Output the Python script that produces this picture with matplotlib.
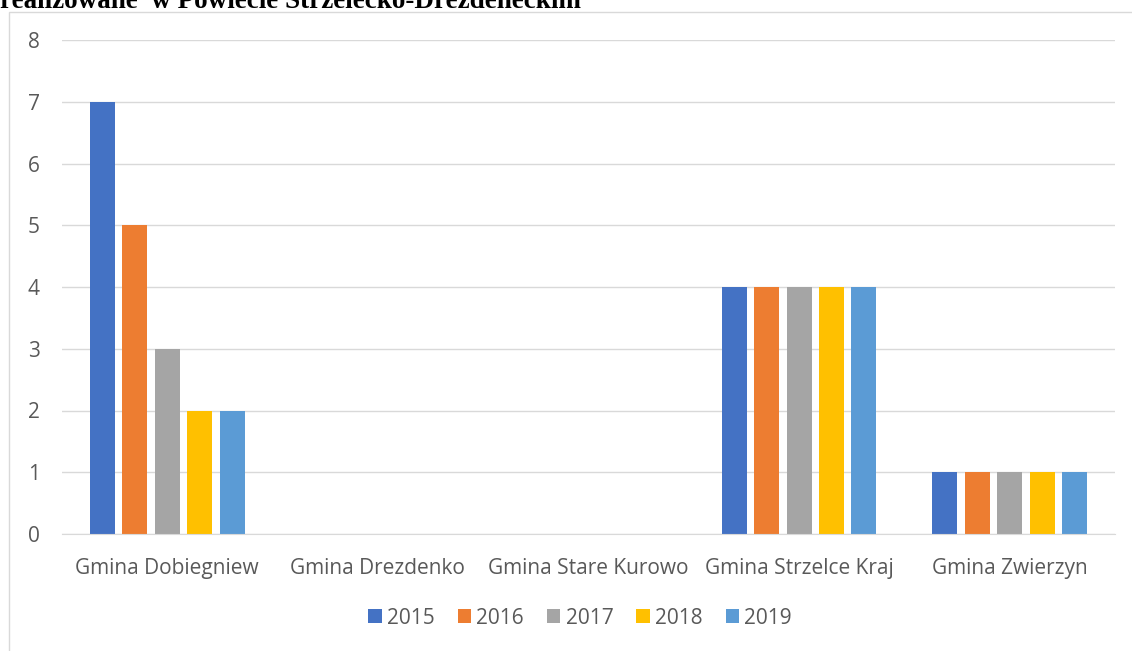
import numpy as np
import matplotlib
matplotlib.use('Agg')
import matplotlib.pyplot as plt
from matplotlib.patches import Rectangle

# Data
gminy = ['Gmina Dobiegniew', 'Gmina Drezdenko', 'Gmina Stare Kurowo',
         'Gmina Strzelce Kraj', 'Gmina Zwierzyn']
years = ['2015', '2016', '2017', '2018', '2019']
v2015 = [7, 0, 0, 4, 1]
v2016 = [5, 0, 0, 4, 1]
v2017 = [3, 0, 0, 4, 1]
v2018 = [2, 0, 0, 4, 1]
v2019 = [2, 0, 0, 4, 1]
colors = ['#4472C4', '#ED7D31', '#A5A5A5', '#FFC000', '#5B9BD5']

series = [v2015, v2016, v2017, v2018, v2019]

plt.rcParams['font.family'] = ['Open Sans', 'DejaVu Sans']
txt = '#595959'

fig = plt.figure(figsize=(11.32, 6.51), dpi=100)
ax = fig.add_axes([62 / 1132, 1 - 534 / 651, (1115 - 62) / 1132, (534 - 40) / 651])

x = np.arange(len(gminy))
step = 0.154
width = 0.119
for i, (vals, yr, c) in enumerate(zip(series, years, colors)):
    ax.bar(x + (i - 2) * step, vals, width, color=c, label=yr, zorder=3)

ax.set_xlim(-0.5, len(gminy) - 0.5)
ax.set_ylim(0, 8)
ax.set_yticks(range(0, 9))
ax.yaxis.grid(True, color='#d9d9d9', linewidth=1, zorder=0)
ax.set_xticks(x)
ax.set_xticklabels(gminy)
ax.tick_params(axis='both', length=0, labelsize=15, colors=txt)
ax.tick_params(axis='x', pad=17)
ax.tick_params(axis='y', pad=16)
for s in ['top', 'right', 'left']:
    ax.spines[s].set_visible(False)
ax.spines['bottom'].set_color('#d9d9d9')
ax.spines['bottom'].set_zorder(4)

leg = ax.legend(loc='center', bbox_to_anchor=(580 / 1132, 1 - 618 / 651),
                bbox_transform=fig.transFigure, ncol=5, frameon=False,
                fontsize=15, handlelength=0.65, handleheight=0.65,
                handletextpad=0.25, columnspacing=1.1)
for t in leg.get_texts():
    t.set_color(txt)

# chart frame (extends past the right and bottom edges like the cropped source)
fig.patches.append(Rectangle((9 / 1132, -0.05), 1.1, 1 - 12 / 651 + 0.05,
                             transform=fig.transFigure, fill=False,
                             edgecolor='#d9d9d9', linewidth=1))

# cropped title above the chart
fig.text(0, 1 - 8 / 651, 'realizowane  w Powiecie Strzelecko-Drezdeneckim',
         family='Liberation Serif', fontweight='bold', fontsize=19.5,
         ha='left', va='baseline', color='black')

fig.savefig('out.png', dpi=100)
